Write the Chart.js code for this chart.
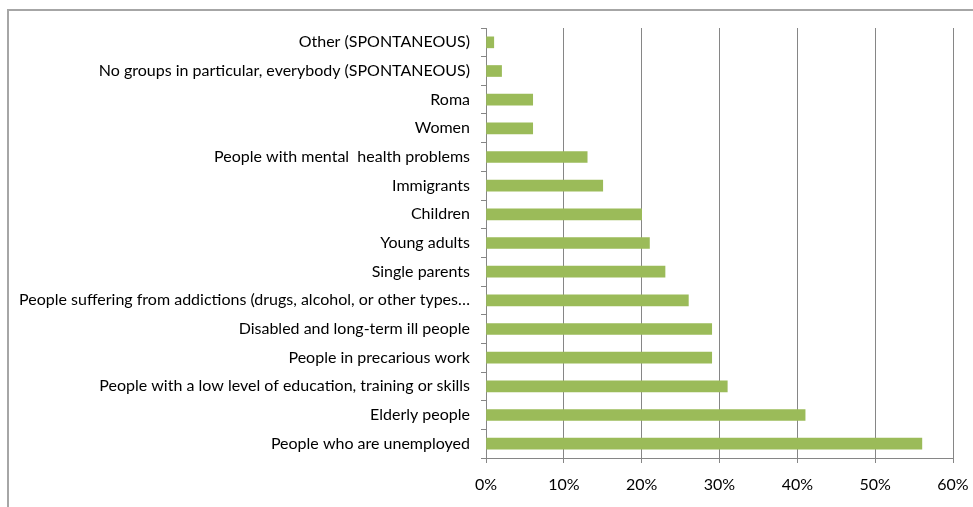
<!DOCTYPE html>
<html>
<head>
<meta charset="utf-8">
<script src="https://cdn.jsdelivr.net/npm/chart.js@4/dist/chart.umd.min.js"></script>
<style>
  html, body { margin: 0; padding: 0; background: #fff; overflow: hidden; }
  #frame { position: absolute; left: 7px; top: 9px; width: 1100px; height: 700px; border: 2px solid #a6a6a6; box-sizing: border-box; }
  #wrap { position: absolute; left: 0; top: 0; width: 973px; height: 507px; }
</style>
</head>
<body>
<div id="frame"></div>
<div id="wrap"><canvas id="c" width="973" height="507"></canvas></div>
<script>
const categories = [
  "Other (SPONTANEOUS)",
  "No groups in particular, everybody (SPONTANEOUS)",
  "Roma",
  "Women",
  "People with mental  health problems",
  "Immigrants",
  "Children",
  "Young adults",
  "Single parents",
  "People suffering from addictions (drugs, alcohol, or other types\u2026",
  "Disabled and long-term ill people",
  "People in precarious work",
  "People with a low level of education, training or skills",
  "Elderly people",
  "People who are unemployed"
];
const values = [1, 2, 6, 6, 13, 15, 20, 21, 23, 26, 29, 29, 31, 41, 56];
const xTicks = [0, 10, 20, 30, 40, 50, 60];

const FONT = "Lato, 'Liberation Sans', sans-serif";
const AXIS = '#868686';

new Chart(document.getElementById('c'), {
  type: 'bar',
  data: {
    labels: categories,
    datasets: [{
      data: values,
      backgroundColor: '#9BBB59',
      borderWidth: 0,
      barThickness: 11
    }]
  },
  options: {
    indexAxis: 'y',
    responsive: false,
    animation: false,
    devicePixelRatio: 1,
    layout: { padding: { left: 0, right: 20, top: 28, bottom: 0 } },
    plugins: { legend: { display: false }, tooltip: { enabled: false } },
    scales: {
      x: {
        min: 0, max: 60,
        afterBuildTicks: (s) => { s.ticks = xTicks.map(v => ({ value: v })); },
        afterFit: (s) => { s.height = 49; s.paddingLeft = 0; s.paddingRight = 0; },
        grid: { color: AXIS, lineWidth: 1, tickLength: 5, drawOnChartArea: true },
        border: { display: true, color: AXIS, width: 1 },
        ticks: {
          padding: 12,
          color: '#000',
          font: { family: FONT, size: 16 },
          callback: (v) => v + '%'
        }
      },
      y: {
        afterFit: (s) => { s.width = 486; s.paddingTop = 0; s.paddingBottom = 0; },
        grid: { display: true, drawOnChartArea: false, drawTicks: true, tickLength: 5, color: AXIS, offset: true },
        border: { display: true, color: AXIS, width: 1 },
        ticks: {
          padding: 11,
          color: '#000',
          autoSkip: false,
          font: { family: FONT, size: 16 }
        }
      }
    }
  }
});
</script>
</body>
</html>
